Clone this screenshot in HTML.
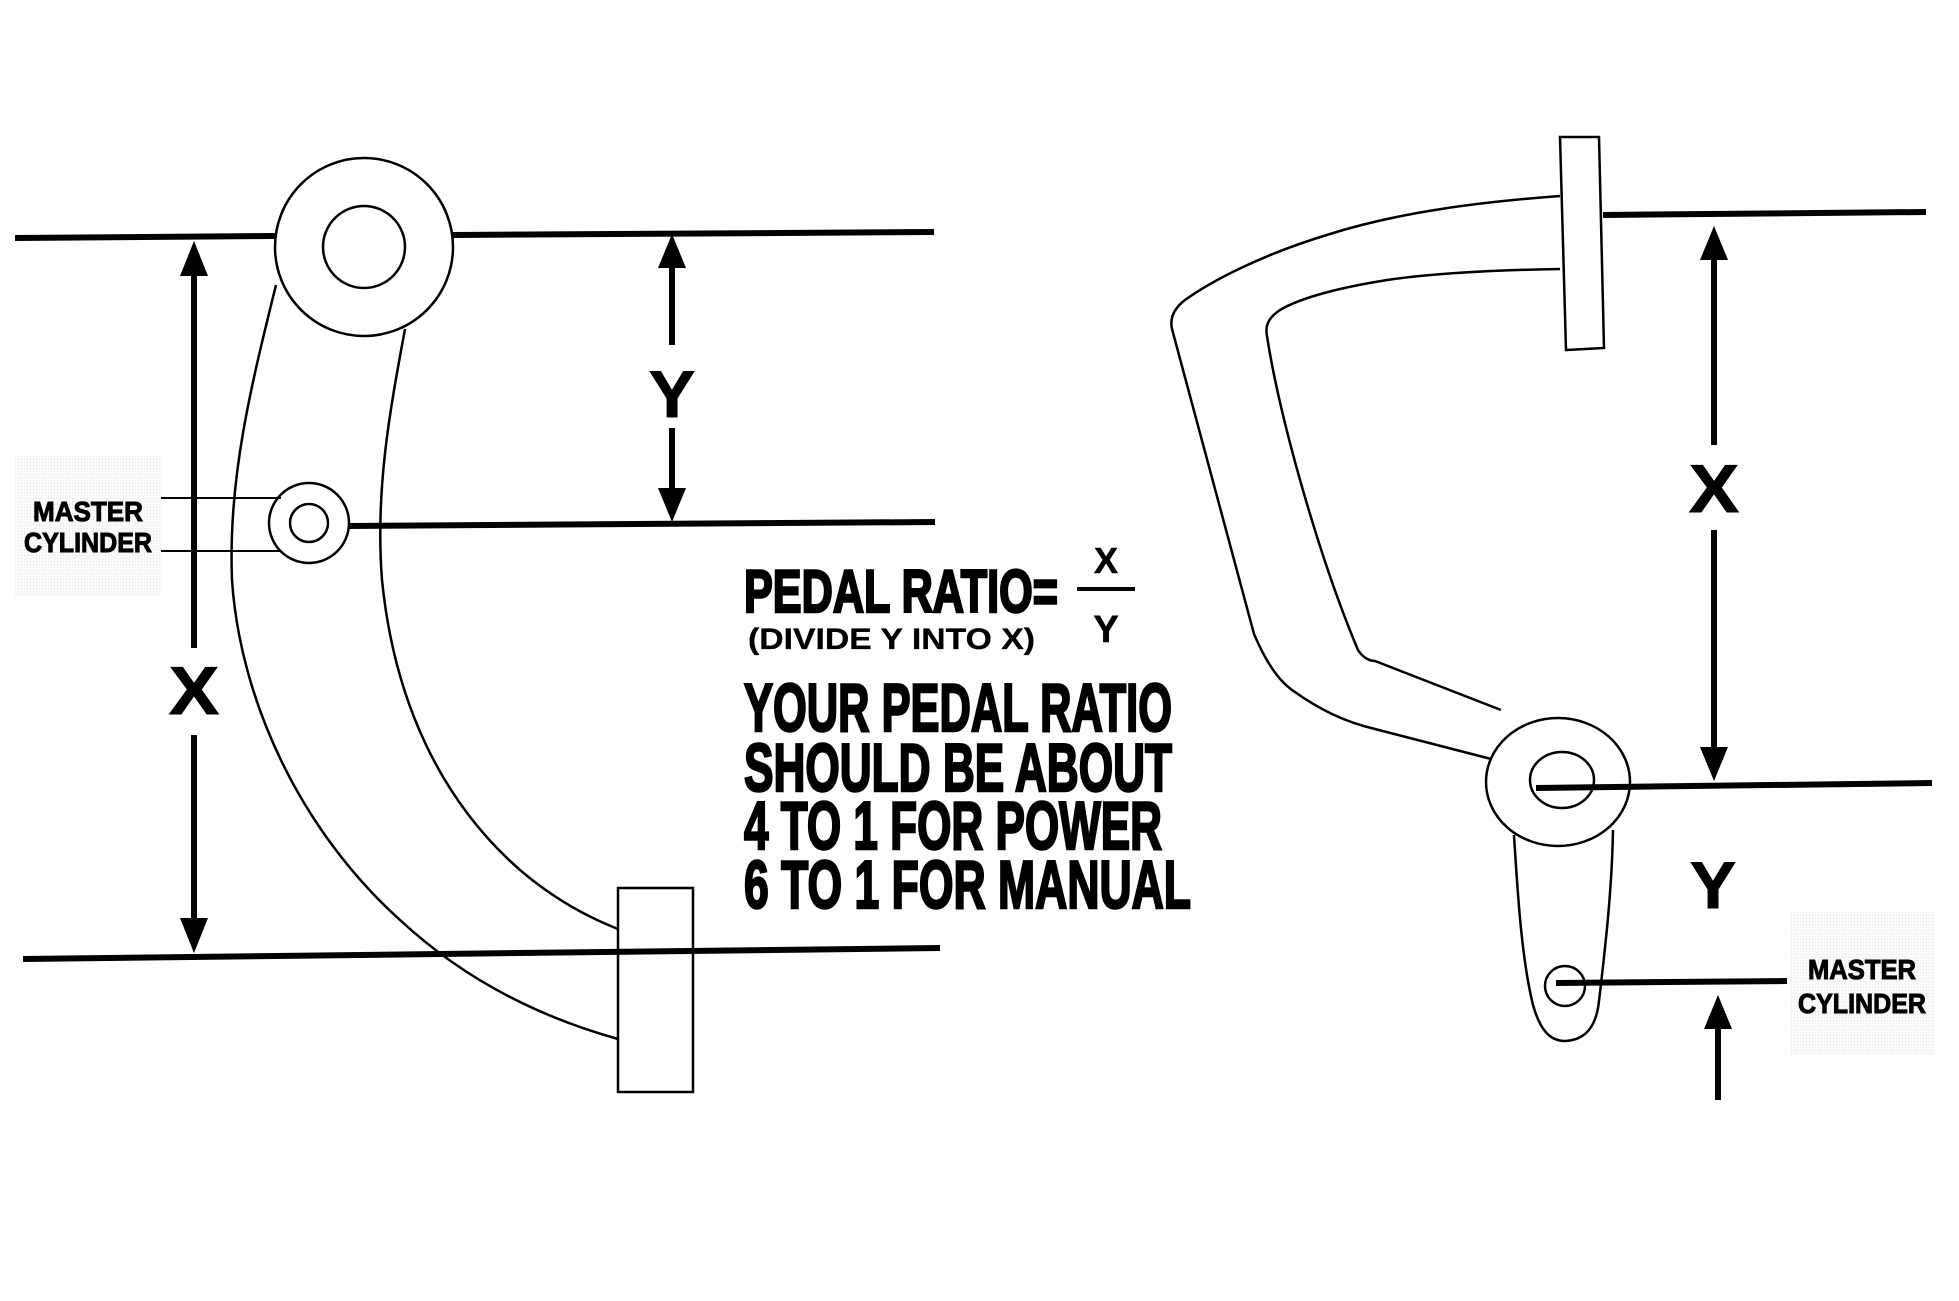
<!DOCTYPE html>
<html><head><meta charset="utf-8"><style>html,body{margin:0;padding:0;background:#fff}svg{display:block}</style></head>
<body>
<svg width="1959" height="1301" viewBox="0 0 1959 1301" xmlns="http://www.w3.org/2000/svg">
<defs>
<pattern id="dots" width="3" height="3" patternUnits="userSpaceOnUse"><rect width="3" height="3" fill="#fafafa"/><rect width="1" height="1" fill="#e6e6e6"/></pattern>
</defs>
<g fill="none" stroke="#000" stroke-width="2.5">
<!-- LEFT -->
<path d="M276,285 C250,390 228,480 232,580 C240,700 300,830 400,920 C470,985 550,1020 618,1039"/>
<path d="M405,329 C390,410 375,490 382,580 C394,700 440,800 520,870 C555,900 590,918 618,929"/>
<circle cx="364" cy="247" r="89" fill="#fff"/>
<circle cx="364" cy="247" r="41"/>
<circle cx="309" cy="523" r="40" fill="#fff"/>
<circle cx="309" cy="523" r="19"/>
<line x1="161" y1="498" x2="281" y2="498" stroke-width="2"/>
<line x1="161" y1="551" x2="281" y2="551" stroke-width="2"/>
<rect x="618" y="888" width="75" height="204"/>
</g>
<g stroke="#000" stroke-width="6" fill="none">
<line x1="15" y1="238" x2="276" y2="236"/>
<line x1="453" y1="235" x2="934" y2="232"/>
<line x1="349" y1="526" x2="935" y2="522"/>
<line x1="23" y1="959" x2="940" y2="948"/>
<line x1="194" y1="270" x2="194" y2="648"/>
<line x1="194" y1="735" x2="194" y2="925"/>
<line x1="672" y1="262" x2="672" y2="345"/>
<line x1="672" y1="428" x2="672" y2="495"/>
</g>
<g fill="#000">
<polygon points="194,241 180,276 208,276"/>
<polygon points="194,953 180,918 208,918"/>
<polygon points="672,234 658,268 686,268"/>
<polygon points="672,522 658,488 686,488"/>
</g>
<rect x="15" y="456" width="146" height="140" fill="url(#dots)"/>
<g font-family="Liberation Sans, sans-serif" font-weight="bold" fill="#000" stroke="#000">
<text x="88" y="521" font-size="28" stroke-width="1" text-anchor="middle" textLength="110" lengthAdjust="spacingAndGlyphs">MASTER</text>
<text x="88" y="552" font-size="28" stroke-width="1" text-anchor="middle" textLength="128" lengthAdjust="spacingAndGlyphs">CYLINDER</text>
<text x="194" y="714" font-size="68" stroke-width="1" text-anchor="middle" textLength="50" lengthAdjust="spacingAndGlyphs">X</text>
<text x="672" y="417" font-size="66" stroke-width="1" text-anchor="middle" textLength="46" lengthAdjust="spacingAndGlyphs">Y</text>
</g>
<!-- CENTER TEXT -->
<g font-family="Liberation Sans, sans-serif" font-weight="bold" fill="#000" stroke="#000" stroke-width="2.5">
<text x="744" y="612" font-size="60" textLength="314" lengthAdjust="spacingAndGlyphs">PEDAL RATIO=</text>
<text x="1106" y="573" font-size="36" stroke-width="0.5" text-anchor="middle">X</text>
<text x="1106" y="642" font-size="38" stroke-width="0.5" text-anchor="middle">Y</text>
<text x="748" y="649" font-size="30" stroke-width="0.3" textLength="287" lengthAdjust="spacingAndGlyphs">(DIVIDE Y INTO X)</text>
<text x="744" y="731" font-size="68" textLength="428" lengthAdjust="spacingAndGlyphs">YOUR PEDAL RATIO</text>
<text x="744" y="791" font-size="68" textLength="428" lengthAdjust="spacingAndGlyphs">SHOULD BE ABOUT</text>
<text x="744" y="849" font-size="68" textLength="418" lengthAdjust="spacingAndGlyphs">4 TO 1 FOR POWER</text>
<text x="744" y="908" font-size="68" textLength="447" lengthAdjust="spacingAndGlyphs">6 TO 1 FOR MANUAL</text>
</g>
<rect x="1077" y="587" width="58" height="4" fill="#000"/>
<!-- RIGHT -->
<g fill="none" stroke="#000" stroke-width="2.5">
<path d="M1560,196 C1480,202 1400,212 1330,234 C1260,255 1210,282 1185,300 C1172,310 1170,320 1172,329 L1254,634 C1265,660 1278,680 1292,690 C1320,710 1345,722 1375,729 L1495,760"/>
<path d="M1560,269 C1500,270 1440,273 1394,279 C1340,287 1300,298 1280,310 C1268,318 1265,326 1267,336 C1280,420 1320,560 1358,650 C1363,658 1370,661 1375,661 L1501,710"/>
<path d="M1514,835 C1518,900 1522,960 1533,1005 C1540,1030 1550,1041 1565,1041 C1590,1040 1597,1020 1599,1001 C1605,950 1612,890 1613,830" fill="#fff"/>
<ellipse cx="1558" cy="782" rx="72" ry="64" fill="#fff"/>
<ellipse cx="1562" cy="780" rx="32" ry="28"/>
<circle cx="1565" cy="986" r="20"/>
<polygon points="1560,137 1599,137 1604,348 1566,350" fill="#fff"/>
</g>
<g stroke="#000" stroke-width="6" fill="none">
<line x1="1603" y1="215" x2="1926" y2="212"/>
<line x1="1536" y1="788" x2="1932" y2="783"/>
<line x1="1556" y1="983" x2="1787" y2="981"/>
<line x1="1714" y1="255" x2="1714" y2="445"/>
<line x1="1714" y1="530" x2="1714" y2="752"/>
<line x1="1718" y1="1025" x2="1718" y2="1100"/>
</g>
<g fill="#000">
<polygon points="1714,226 1700,260 1728,260"/>
<polygon points="1714,781 1700,747 1728,747"/>
<polygon points="1718,995 1704,1029 1732,1029"/>
</g>
<rect x="1790" y="912" width="145" height="143" fill="url(#dots)"/>
<g font-family="Liberation Sans, sans-serif" font-weight="bold" fill="#000" stroke="#000">
<text x="1862" y="979" font-size="28" stroke-width="1" text-anchor="middle" textLength="108" lengthAdjust="spacingAndGlyphs">MASTER</text>
<text x="1862" y="1013" font-size="28" stroke-width="1" text-anchor="middle" textLength="128" lengthAdjust="spacingAndGlyphs">CYLINDER</text>
<text x="1714" y="512" font-size="68" stroke-width="1" text-anchor="middle" textLength="50" lengthAdjust="spacingAndGlyphs">X</text>
<text x="1713" y="908" font-size="66" stroke-width="1" text-anchor="middle" textLength="46" lengthAdjust="spacingAndGlyphs">Y</text>
</g>
</svg>
</body></html>
